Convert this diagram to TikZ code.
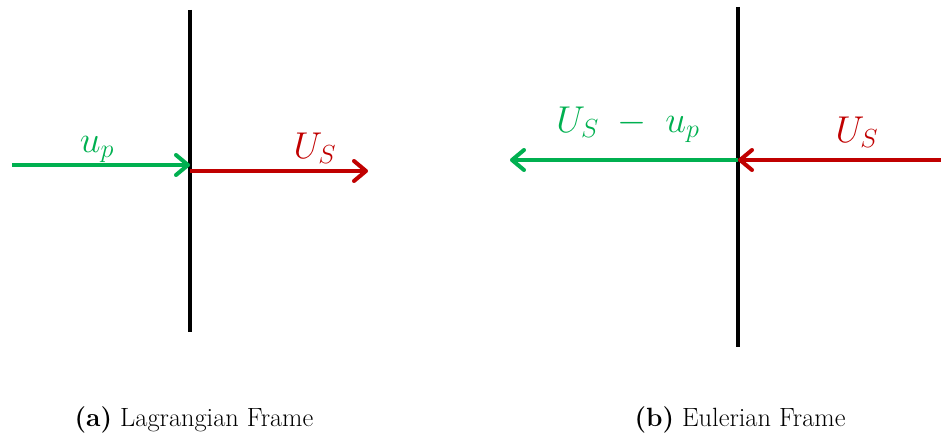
\RequirePackage{fix-cm}
\documentclass[tikz,border=0pt]{standalone}
\usepackage{amsmath,xcolor}
\usetikzlibrary{arrows.meta}
\definecolor{velgreen}{RGB}{0,176,80}
\definecolor{velred}{RGB}{192,0,0}

\begin{document}
\begin{tikzpicture}[x=.75pt,y=-.75pt,>={Straight Barb[length=9pt,width=15pt,round]},line width=3pt,
  lbl/.style={font=\fontsize{28}{32}\selectfont,inner sep=0pt,anchor=base},
  captionlbl/.style={font=\fontsize{19.8}{24}\selectfont,inner sep=0pt,anchor=base}]
\useasboundingbox (0,0) rectangle (941,435);
% Lagrangian frame
\coordinate (wallLtop) at (190,10);
\coordinate (wallLbot) at (190,332);
\coordinate (wallLg) at (190,165);
\coordinate (wallLr) at (190,171);
\coordinate (upL) at (12,165);
\coordinate (usL) at (368,171);
\draw[black,line width=3.3pt] (wallLtop)--(wallLbot);
\draw[velgreen,->] (upL)--(wallLg);
\draw[velred,->] (wallLr)--(usL);
\node[lbl,text=velgreen] (lblupL) at (97,152) {$u_p$};
\node[lbl,text=velred] (lblusL) at (315,158) {$U_S$};
% Eulerian frame
\coordinate (wallRtop) at (738,7);
\coordinate (wallRbot) at (738,347);
\coordinate (wallRm) at (738,160);
\coordinate (relR) at (510,160);
\coordinate (usR) at (941,160);
\draw[black,line width=3.3pt] (wallRtop)--(wallRbot);
\draw[velgreen,->] (wallRm)--(relR);
\draw[velred,->] (usR)--(wallRm);
\node[lbl,text=velgreen] (lblrelR) at (628,132) {$U_S\;-\;u_p$};
\node[lbl,text=velred] (lblusR) at (857,142) {$U_S$};
% captions
\node[captionlbl] (capA) at (194,426) {\textbf{(a)} Lagrangian Frame};
\node[captionlbl] (capB) at (740,426) {\textbf{(b)} Eulerian Frame};
\end{tikzpicture}
\end{document}
